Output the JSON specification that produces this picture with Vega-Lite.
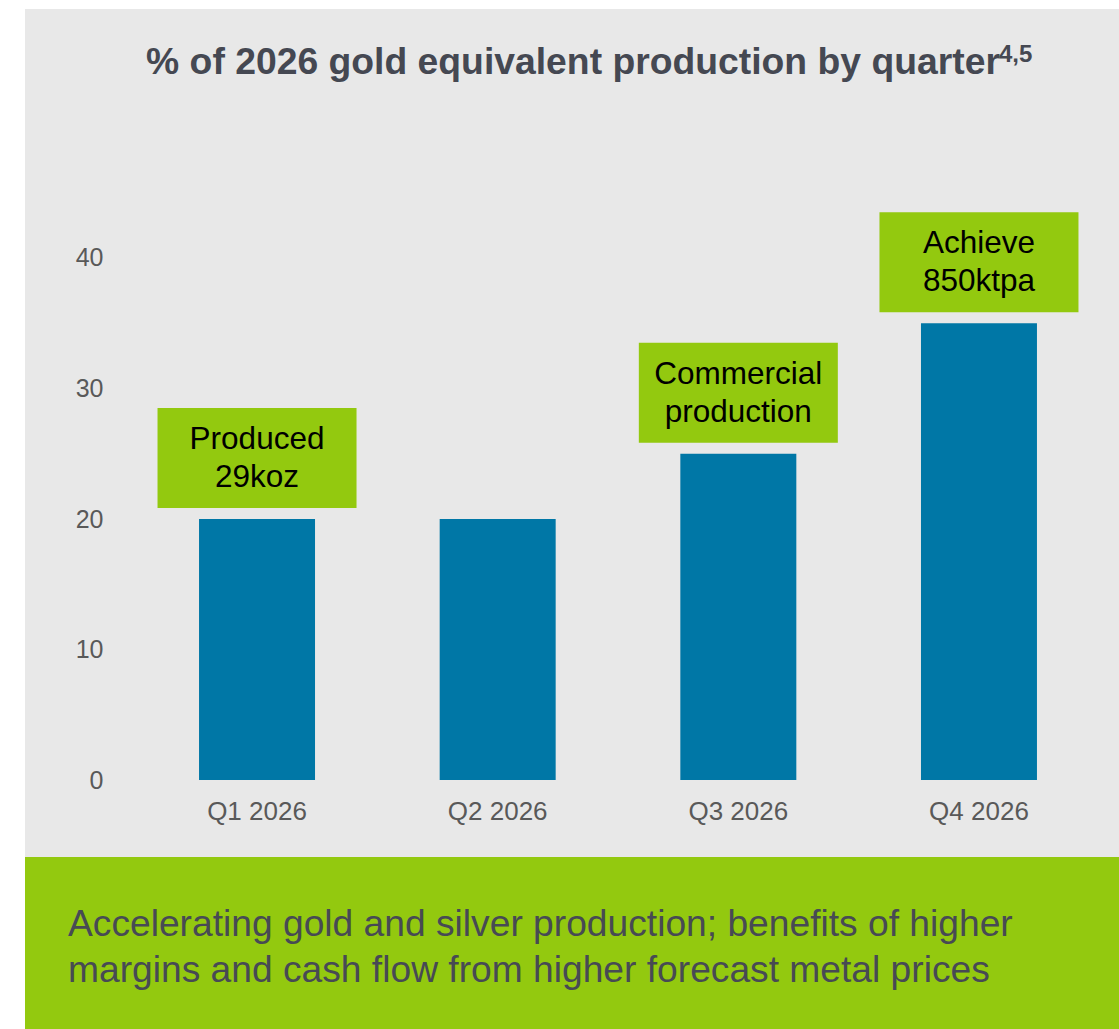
{
  "$schema": "https://vega.github.io/schema/vega-lite/v6.json",
  "background": "white",
  "padding": {"left": 25, "top": 9, "right": 0, "bottom": 0},
  "spacing": 0,
  "config": {"view": {"stroke": null}, "font": "Liberation Sans"},
  "title": {
    "text": "4,5",
    "orient": "top",
    "anchor": "start",
    "frame": "group",
    "offset": -58,
    "dx": 974,
    "font": "Liberation Sans",
    "fontSize": 24,
    "fontWeight": "bold",
    "color": "#454852"
  },
  "vconcat": [
    {
      "width": 1094,
      "height": 848,
      "view": {"fill": "#e8e8e8", "stroke": null},
      "title": {
        "text": "% of 2026 gold equivalent production by quarter",
        "orient": "top",
        "anchor": "middle",
        "frame": "group",
        "offset": -73,
        "dx": 1,
        "font": "Liberation Sans",
        "fontSize": 37.3,
        "fontWeight": "bold",
        "color": "#454852"
      },
      "data": {
        "values": [
          {"quarter": "Q1 2026", "share": 20, "note": "Produced\n29koz"},
          {"quarter": "Q2 2026", "share": 20, "note": null},
          {"quarter": "Q3 2026", "share": 25, "note": "Commercial\nproduction"},
          {"quarter": "Q4 2026", "share": 35, "note": "Achieve\n850ktpa"}
        ]
      },
      "encoding": {
        "x": {
          "field": "quarter",
          "type": "nominal",
          "sort": null,
          "scale": {"range": [111.7, 1074.3], "paddingInner": 0.518, "paddingOuter": 0.259},
          "axis": {
            "title": null,
            "labelAngle": 0,
            "labelFont": "Liberation Sans",
            "labelFontSize": 26,
            "labelColor": "#595959",
            "domain": false,
            "ticks": false,
            "tickSize": 0,
            "grid": false,
            "offset": -77,
            "labelPadding": 18,
            "minExtent": 0
          }
        },
        "y": {
          "field": "share",
          "type": "quantitative",
          "scale": {"domain": [-5.9, 59.08], "zero": false, "nice": false},
          "axis": {
            "title": null,
            "values": [0, 10, 20, 30, 40],
            "labelFont": "Liberation Sans",
            "labelFontSize": 25,
            "labelColor": "#595959",
            "domain": false,
            "ticks": false,
            "tickSize": 0,
            "grid": false,
            "offset": -78,
            "labelPadding": 0,
            "minExtent": 0
          }
        }
      },
      "layer": [
        {
          "mark": {"type": "bar", "color": "#0077a6"},
          "encoding": {"y2": {"datum": 0}}
        },
        {
          "transform": [{"filter": "datum.note != null"}],
          "mark": {
            "type": "point",
            "shape": "M-1,-0.5025L1,-0.5025L1,0.5025L-1,0.5025Z",
            "size": 39601,
            "filled": true,
            "opacity": 1,
            "color": "#93c90f",
            "strokeWidth": 0,
            "yOffset": -61
          }
        },
        {
          "transform": [{"filter": "datum.note != null"}],
          "mark": {
            "type": "text",
            "lineBreak": "\n",
            "font": "Liberation Sans",
            "fontSize": 31.5,
            "lineHeight": 38,
            "color": "#000000",
            "align": "center",
            "baseline": "middle",
            "yOffset": -79
          },
          "encoding": {"text": {"field": "note", "type": "nominal"}}
        }
      ]
    },
    {
      "width": 1094,
      "height": 172,
      "view": {"fill": "#93c90f", "stroke": null},
      "title": {
        "text": ["Accelerating gold and silver production; benefits of higher", "margins and cash flow from higher forecast metal prices"],
        "orient": "top",
        "anchor": "start",
        "frame": "group",
        "offset": -133,
        "dx": 43,
        "font": "Liberation Sans",
        "fontSize": 37.2,
        "fontWeight": "normal",
        "lineHeight": 45.5,
        "color": "#474a54"
      },
      "data": {"values": [{"section": "summary"}]},
      "mark": {"type": "rect", "color": "#93c90f"},
      "encoding": {}
    }
  ]
}
